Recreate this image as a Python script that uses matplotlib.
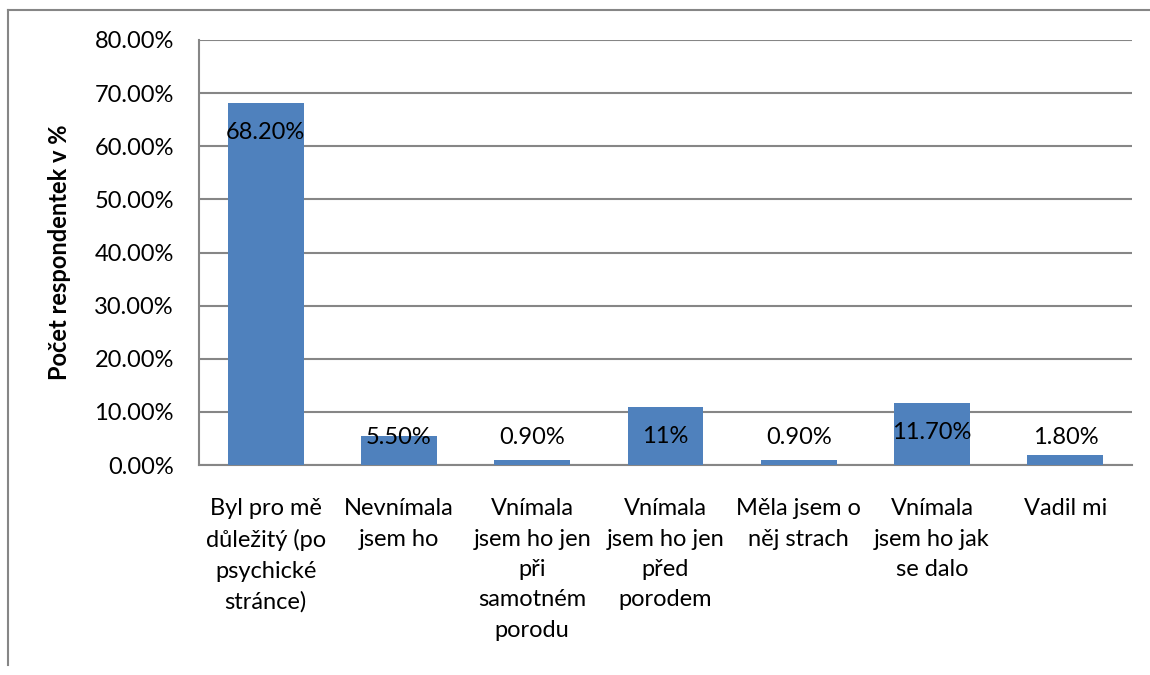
import matplotlib.pyplot as plt
from matplotlib.lines import Line2D
from matplotlib.ticker import FuncFormatter

# data
categories = [
    "Byl pro mě\ndůležitý (po\npsychické\nstránce)",
    "Nevnímala\njsem ho",
    "Vnímala\njsem ho jen\npři\nsamotném\nporodu",
    "Vnímala\njsem ho jen\npřed\nporodem",
    "Měla jsem o\nněj strach",
    "Vnímala\njsem ho jak\nse dalo",
    "Vadil mi",
]
values = [68.2, 5.5, 0.9, 11.0, 0.9, 11.7, 1.8]
value_labels = ["68.20%", "5.50%", "0.90%", "11%", "0.90%", "11.70%", "1.80%"]
y_label = "Počet respondentek v %"

plt.rcParams['font.family'] = ['Lato', 'DejaVu Sans']
fs = 17
grey = '#868686'

fig = plt.figure(figsize=(11.5, 6.75), dpi=100)
ax = fig.add_axes([199 / 1150, 1 - 465 / 675, 933 / 1150, 425 / 675])

x = range(len(values))
ax.bar(x, values, width=0.57, color='#4F81BD', zorder=3)

# value labels (inside top of tall bars, just above small ones)
for i, (v, lab) in enumerate(zip(values, value_labels)):
    ax.text(i, max(v - 5.65, 5.1), lab, ha='center', va='center',
            fontsize=fs, color='black', zorder=4)

ax.set_xlim(-0.5, len(values) - 0.5)
ax.set_ylim(0, 80)
ax.set_yticks(range(0, 81, 10))
ax.yaxis.set_major_formatter(FuncFormatter(lambda v, p: f"{v:.2f}%"))
ax.set_xticks(list(x))
ax.set_xticklabels(categories, fontsize=fs, linespacing=1.55, va='top')
ax.tick_params(axis='both', length=0, labelsize=fs)
ax.tick_params(axis='x', pad=24)
ax.tick_params(axis='y', pad=18)
ax.grid(axis='y', color=grey, linewidth=1.5, zorder=0)
ax.set_axisbelow(True)
for s in ['top', 'right']:
    ax.spines[s].set_visible(False)
for s in ['left', 'bottom']:
    ax.spines[s].set_color(grey)
    ax.spines[s].set_linewidth(1.5)

ax.set_ylabel(y_label, fontsize=fs, fontweight='bold')
ax.yaxis.set_label_coords(-128 / 933, 0.5)

# outer chart border (only left and top visible)
fig.add_artist(Line2D([8 / 1150, 8 / 1150], [1 - 665 / 675, 1 - 10 / 675],
                      transform=fig.transFigure, color=grey, linewidth=1.5))
fig.add_artist(Line2D([8 / 1150, 1.0], [1 - 10 / 675, 1 - 10 / 675],
                      transform=fig.transFigure, color=grey, linewidth=1.5))

fig.savefig('out.png', dpi=100, facecolor='white')
